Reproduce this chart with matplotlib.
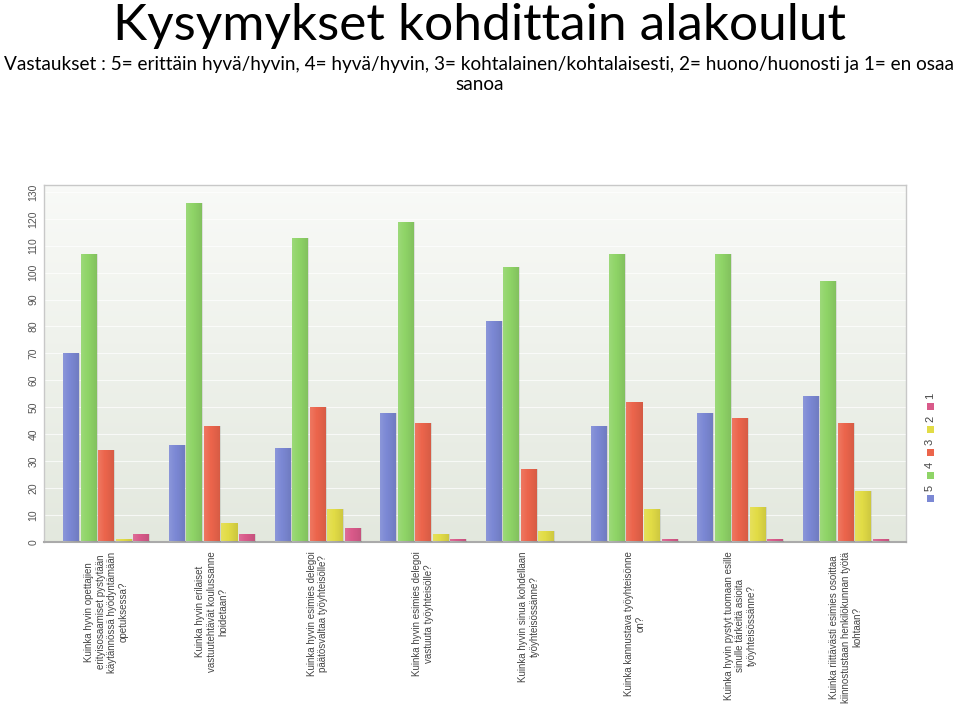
import numpy as np
import matplotlib
matplotlib.use("Agg")
import matplotlib.pyplot as plt
from matplotlib.patches import Rectangle

# kysymykset (x-akselin tekstit)
questions = [
    "Kuinka hyvin opettajien\nerityisosaamiset pystytään\nkäytännössä hyödyntämään\nopetuksessa?",
    "Kuinka hyvin erilaiset\nvastuutehtävät koulussanne\nhoidetaan?",
    "Kuinka hyvin esimies delegoi\npäätösvaltaa työyhteisölle?",
    "Kuinka hyvin esimies delegoi\nvastuuta työyhteisölle?",
    "Kuinka hyvin sinua kohdellaan\ntyöyhteisössänne?",
    "Kuinka kannustava työyhteisönne\non?",
    "Kuinka hyvin pystyt tuomaan esille\nsinulle tärkeitä asioita\ntyöyhteisössänne?",
    "Kuinka riittävästi esimies osoittaa\nkiinnostustaan henkilökunnan työtä\nkohtaan?",
]

series_names = ["5", "4", "3", "2", "1"]
vals_5 = [70, 36, 35, 48, 82, 43, 48, 54]
vals_4 = [107, 126, 113, 119, 102, 107, 107, 97]
vals_3 = [34, 43, 50, 44, 27, 52, 46, 44]
vals_2 = [1, 7, 12, 3, 4, 12, 13, 19]
vals_1 = [3, 3, 5, 1, 0, 1, 1, 1]
series_vals = [vals_5, vals_4, vals_3, vals_2, vals_1]
colors = ["#7b88d4", "#8fd467", "#ec654c", "#e2dc46", "#d95a8a"]

yticks = list(range(0, 131, 10))

title = "Kysymykset kohdittain alakoulut"
subtitle = ("Vastaukset : 5= erittäin hyvä/hyvin, 4= hyvä/hyvin, 3= kohtalainen/kohtalaisesti, "
            "2= huono/huonosti ja 1= en osaa\nsanoa")

fig = plt.figure(figsize=(9.59, 7.23), dpi=100)
ax = fig.add_axes([0.0459, 0.2508, 0.8988, 0.4933])

# taustan liukuväri
grad = np.linspace(0, 1, 256).reshape(-1, 1)
top_c = np.array([0.975, 0.98, 0.97])
bot_c = np.array([0.89, 0.91, 0.87])
bg = top_c * (1 - grad[..., None]) + bot_c * grad[..., None]
ax.imshow(bg, extent=[-0.59, 7.57, 0, 132.6], aspect="auto", zorder=0)

x = np.arange(len(questions))
w = 0.152
step = 0.166
for i, (vals, c) in enumerate(zip(series_vals, colors)):
    bars = ax.bar(x + (i - 2) * step, vals, width=w, color=c, edgecolor="none", zorder=2)
    for b in bars:
        if b.get_height() <= 0:
            continue
        bx, by = b.get_x(), b.get_y()
        shade = np.zeros((1, 32, 4))
        t = np.linspace(0, 1, 32)
        shade[0, :, :3] = np.where(t[:, None] < 0.4, 1.0, 0.0)
        shade[0, :, 3] = np.where(t < 0.4, 0.12 * (1 - t / 0.4), 0.10 * (t - 0.4) / 0.6)
        im = ax.imshow(shade, extent=[bx, bx + b.get_width(), by, by + b.get_height()],
                       aspect="auto", zorder=3)
        im.set_clip_path(b)

ax.set_xlim(-0.59, 7.57)
ax.set_ylim(0, 132.6)
ax.set_yticks(yticks)
ax.set_yticklabels([str(v) for v in yticks], rotation=90, va="center",
                   fontsize=7.5, color="#555555", family="Liberation Sans")
ax.yaxis.grid(True, color="#ffffff", linewidth=0.8, alpha=0.7, zorder=1)
ax.set_axisbelow(True)
ax.tick_params(axis="y", length=0, pad=4)
ax.set_xticks(x)
ax.set_xticklabels(questions, rotation=90, ha="center", va="top", multialignment="center",
                   fontsize=7, color="#444444", family="Liberation Sans")
ax.tick_params(axis="x", length=0, pad=7)
for s in ax.spines.values():
    s.set_color("#c8c8c8")
    s.set_linewidth(1.0)
ax.spines["bottom"].set_color("#aaaaaa")
ax.spines["bottom"].set_linewidth(1.5)

# pystysuuntainen selite
leg_x = 930 / 959
for i, (name, c) in enumerate(zip(series_names, colors)):
    yb = 1 - (502 - i * 23) / 723
    fig.patches.append(Rectangle((leg_x - 3.5 / 959, yb), 7 / 959, 7 / 723,
                                 transform=fig.transFigure, facecolor=c, edgecolor="none"))
    fig.text(leg_x, yb + 11 / 723, name, rotation=90, ha="center", va="bottom",
             fontsize=8, color="#444444", family="Liberation Sans")

fig.text(0.5, 0.996, title, ha="center", va="top", fontsize=37, family="Lato", color="black")
fig.text(0.5, 0.922, subtitle, ha="center", va="top", fontsize=13.7, family="Lato",
         color="black", linespacing=1.2)

fig.savefig("out.png", dpi=100)
